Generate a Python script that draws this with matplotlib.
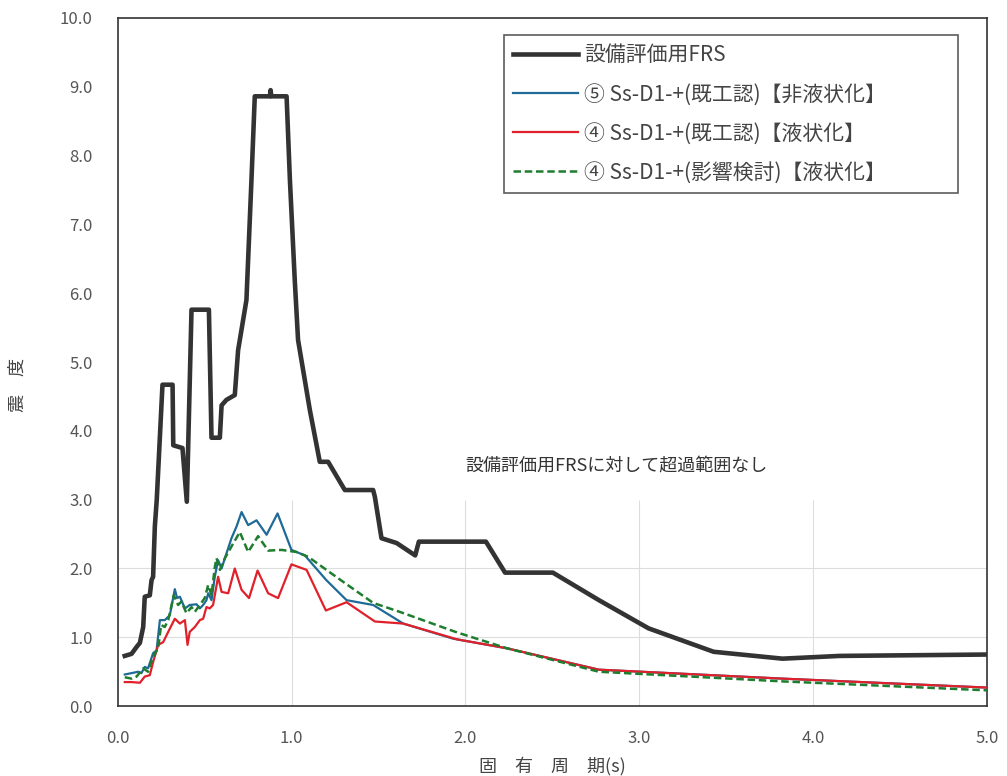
import matplotlib
matplotlib.use('Agg')
import matplotlib.pyplot as plt

plt.rcParams['font.family'] = ['Noto Sans CJK JP', 'DejaVu Sans']

# 設備評価用FRS
frs_x = [0.04, 0.079, 0.108, 0.127, 0.146, 0.155, 0.184, 0.194, 0.203, 0.213, 0.224, 0.257,
         0.315, 0.319, 0.372, 0.397, 0.424, 0.524, 0.539, 0.587, 0.597, 0.625, 0.673, 0.692,
         0.74, 0.769, 0.788, 0.875, 0.879, 0.883, 0.971, 0.99, 1.018, 1.037, 1.105, 1.162,
         1.21, 1.306, 1.469, 1.479, 1.517, 1.604, 1.711, 1.732, 2.118, 2.228, 2.503, 2.768,
         3.054, 3.428, 3.824, 4.154, 5.0]
frs_y = [0.73, 0.76, 0.86, 0.92, 1.15, 1.59, 1.61, 1.83, 1.88, 2.61, 3.0, 4.67,
         4.67, 3.79, 3.75, 2.97, 5.76, 5.76, 3.9, 3.9, 4.37, 4.45, 4.52, 5.17,
         5.9, 7.65, 8.86, 8.86, 8.95, 8.86, 8.86, 7.65, 6.19, 5.32, 4.3, 3.55,
         3.55, 3.14, 3.14, 3.04, 2.44, 2.37, 2.19, 2.39, 2.39, 1.94, 1.94, 1.54,
         1.13, 0.79, 0.69, 0.73, 0.75]

# 5 Ss-D1-+ (既工認) 非液状化
blue_x = [0.04, 0.079, 0.117, 0.136, 0.155, 0.174, 0.203, 0.223, 0.242, 0.27, 0.299, 0.328,
          0.341, 0.357, 0.386, 0.414, 0.453, 0.472, 0.491, 0.51, 0.52, 0.539, 0.558, 0.577,
          0.597, 0.616, 0.654, 0.683, 0.712, 0.75, 0.798, 0.856, 0.919, 0.999, 1.076, 1.2,
          1.316, 1.469, 1.642, 1.93, 2.24, 2.768, 3.824, 5.0]
blue_y = [0.46, 0.48, 0.5, 0.48, 0.57, 0.55, 0.77, 0.81, 1.25, 1.25, 1.32, 1.7,
          1.57, 1.59, 1.42, 1.47, 1.48, 1.42, 1.47, 1.54, 1.64, 1.54, 1.88, 2.12,
          2.0, 2.15, 2.44, 2.61, 2.82, 2.63, 2.7, 2.49, 2.8, 2.27, 2.19, 1.83,
          1.54, 1.47, 1.2, 0.98, 0.84, 0.53, 0.4, 0.27]

# 4 Ss-D1-+ (既工認) 液状化
red_x = [0.04, 0.079, 0.127, 0.155, 0.184, 0.203, 0.223, 0.232, 0.261, 0.29, 0.328, 0.357,
         0.386, 0.401, 0.414, 0.443, 0.472, 0.491, 0.51, 0.529, 0.548, 0.577, 0.597, 0.635,
         0.673, 0.712, 0.755, 0.804, 0.865, 0.922, 0.999, 1.086, 1.197, 1.316, 1.479, 1.642,
         1.953, 2.24, 2.768, 3.824, 5.0]
red_y = [0.35, 0.35, 0.34, 0.43, 0.45, 0.64, 0.81, 0.89, 0.93, 1.08, 1.27, 1.2,
         1.25, 0.89, 1.08, 1.15, 1.25, 1.27, 1.44, 1.42, 1.47, 1.88, 1.66, 1.64,
         2.0, 1.69, 1.57, 1.97, 1.64, 1.57, 2.06, 1.98, 1.39, 1.51, 1.23, 1.2,
         0.97, 0.84, 0.53, 0.4, 0.27]

# 4 Ss-D1-+ (影響検討) 液状化
green_x = [0.04, 0.079, 0.108, 0.146, 0.174, 0.203, 0.232, 0.249, 0.27, 0.29, 0.322, 0.347,
           0.366, 0.395, 0.424, 0.443, 0.472, 0.5, 0.52, 0.539, 0.558, 0.568, 0.587, 0.616,
           0.654, 0.702, 0.75, 0.807, 0.865, 0.942, 1.028, 1.095, 1.3, 1.469, 1.622, 1.953,
           2.24, 2.768, 3.824, 5.0]
green_y = [0.42, 0.4, 0.43, 0.55, 0.5, 0.72, 0.84, 1.18, 1.15, 1.25, 1.61, 1.47,
           1.52, 1.35, 1.44, 1.37, 1.47, 1.57, 1.76, 1.61, 2.02, 2.15, 1.98, 2.15,
           2.32, 2.53, 2.24, 2.47, 2.26, 2.27, 2.24, 2.17, 1.8, 1.5, 1.37, 1.07,
           0.84, 0.5, 0.36, 0.23]

labels = ['設備評価用FRS',
          '⑤ Ss-D1-+(既工認)【非液状化】',
          '④ Ss-D1-+(既工認)【液状化】',
          '④ Ss-D1-+(影響検討)【液状化】']

x_ticks = [0, 1, 2, 3, 4, 5]
y_ticks = [0, 1, 2, 3, 4, 5, 6, 7, 8, 9, 10]

fig = plt.figure(figsize=(10.07, 7.76), dpi=100)
ax = fig.add_axes([0.117, 0.090, 0.863, 0.887])

# 薄いグリッド (下側のみ)
for gy in [1, 2]:
    ax.axhline(gy, color='#dddddd', lw=0.8, zorder=0)
for gx in [1, 2, 3, 4]:
    ax.vlines(gx, 0, 3, color='#dddddd', lw=0.8, zorder=0)

ax.plot(frs_x, frs_y, color='#333333', lw=3.3, label=labels[0], zorder=3)
ax.plot(blue_x, blue_y, color='#1f6a96', lw=1.6, label=labels[1], zorder=4)
ax.plot(red_x, red_y, color='#e0202a', lw=1.6, label=labels[2], zorder=5)
ax.plot(green_x, green_y, color='#1e7d2e', lw=1.8, ls=(0, (3, 1.5)), label=labels[3], zorder=6)

ax.set_xlim(0, 5)
ax.set_ylim(0, 10)
ax.set_xticks(x_ticks)
ax.set_yticks(y_ticks)
ax.set_xticklabels(['%.1f' % v for v in x_ticks])
ax.set_yticklabels(['%.1f' % v for v in y_ticks])
ax.tick_params(length=0, labelsize=12, labelcolor='#555555')
ax.tick_params(axis='x', pad=17)
ax.tick_params(axis='y', pad=18)

for s in ax.spines.values():
    s.set_color('#333333')
    s.set_linewidth(1.2)

ax.set_xlabel('固　有　周　期(s)', fontsize=13, color='#444444')
ax.xaxis.set_label_coords(0.5, -0.074)
ax.set_ylabel('震　度', fontsize=13, color='#444444')
ax.yaxis.set_label_coords(-0.105, 0.467)

ax.text(2.87, 3.5, '設備評価用FRSに対して超過範囲なし', fontsize=13, color='#333333',
        ha='center', va='center')

leg = ax.legend(loc='upper right', fontsize=15, frameon=True, fancybox=False,
                edgecolor='#333333', handlelength=3.1, handletextpad=0.3,
                labelspacing=0.82, borderpad=0.45, borderaxespad=0,
                mode='expand', bbox_to_anchor=(0.444, 0.5, 0.523, 0.475))
leg.get_frame().set_linewidth(1.2)
for t in leg.get_texts():
    t.set_color('#444444')

fig.savefig('out.png', dpi=100)
